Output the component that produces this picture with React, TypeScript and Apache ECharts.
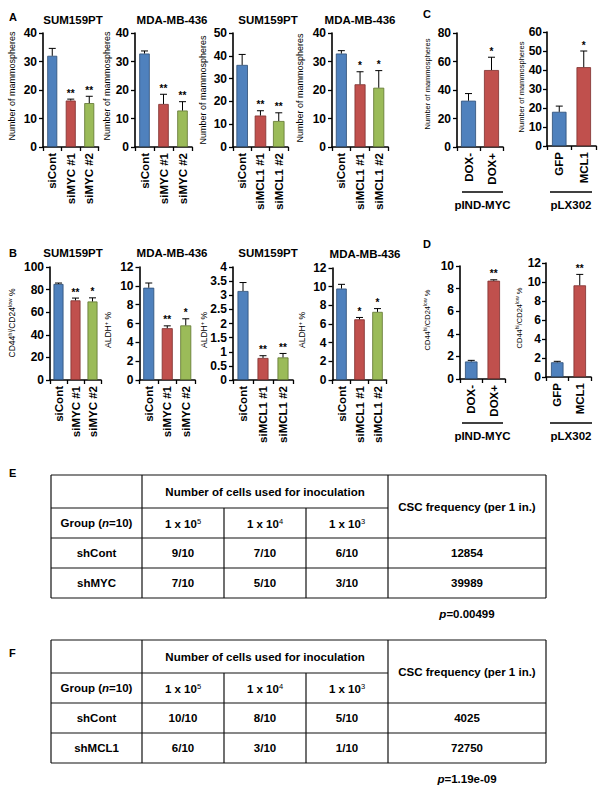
import React, { useEffect, useRef } from 'react';
import * as echarts from 'echarts';

const FONT = '"Liberation Sans", Arial, Helvetica, sans-serif';

// ---------- categories ----------
const catsMYC = ['siCont', 'siMYC #1', 'siMYC #2'];
const catsMCL1 = ['siCont', 'siMCL1 #1', 'siMCL1 #2'];
const catsDOX = ['DOX-', 'DOX+'];
const catsLX = ['GFP', 'MCL1'];

// ---------- panel A: number of mammospheres ----------
const a1Mean = [32, 16.3, 15.4];
const a1Err = [2.6, 0.5, 2.4];
const a1Sig = ['', '**', '**'];
const a2Mean = [32.8, 15.1, 12.8];
const a2Err = [0.9, 3.4, 3.1];
const a2Sig = ['', '**', '**'];
const a3Mean = [36, 13.8, 11.4];
const a3Err = [4.6, 2.1, 3.6];
const a3Sig = ['', '**', '**'];
const a4Mean = [32.8, 22, 20.8];
const a4Err = [1, 4.4, 6];
const a4Sig = ['', '*', '*'];

// ---------- panel C ----------
const c1Mean = [32.5, 54];
const c1Err = [5, 9];
const c1Sig = ['', '*'];
const c2Mean = [18, 41.5];
const c2Err = [3, 8.5];
const c2Sig = ['', '*'];

// ---------- panel B ----------
const b1Mean = [85, 70.5, 69.5];
const b1Err = [0.8, 2, 3.2];
const b1Sig = ['', '**', '*'];
const b2Mean = [9.8, 5.5, 5.8];
const b2Err = [0.5, 0.25, 0.7];
const b2Sig = ['', '**', '*'];
const b3Mean = [3.15, 0.78, 0.8];
const b3Err = [0.3, 0.08, 0.14];
const b3Sig = ['', '**', '**'];
const b4Mean = [9.8, 6.5, 7.3];
const b4Err = [0.45, 0.2, 0.35];
const b4Sig = ['', '*', '*'];

// ---------- panel D ----------
const d1Mean = [1.55, 8.7];
const d1Err = [0.1, 0.08];
const d1Sig = ['', '**'];
const d2Mean = [1.55, 9.65];
const d2Err = [0.1, 1.15];
const d2Sig = ['', '**'];

// ---------- tables ----------
const doseHeads = ['5', '4', '3'];
const tableERows = [
  ['shCont', '9/10', '7/10', '6/10', '12854'],
  ['shMYC', '7/10', '5/10', '3/10', '39989'],
];
const tableEP = '0.00499';
const tableFRows = [
  ['shCont', '10/10', '8/10', '5/10', '4025'],
  ['shMCL1', '6/10', '3/10', '1/10', '72750'],
];
const tableFP = '1.19e-09';

const BAR_COLORS = [
  { fill: '#4f81bd', border: '#2c4d75' },
  { fill: '#c0504d', border: '#7d2f2d' },
  { fill: '#9bbb59', border: '#5f7530' },
];

type Chart = {
  cats: string[];
  mean: number[];
  err: number[];
  sig: string[];
  left: number;
  top: number;
  zero: number;
  catW: number;
  barW: number;
  max: number;
  interval: number;
  title?: string;
  titleX?: number;
  titleY?: number;
  yName: string;
  yNameX: number;
  yNameY: number;
  yNameSize: number;
  labelMargin?: number;
};

const charts: Chart[] = [
  { cats: catsMYC, mean: a1Mean, err: a1Err, sig: a1Sig, left: 43, top: 33, zero: 147, catW: 18.5, barW: 10, max: 40, interval: 10, title: 'SUM159PT', titleX: 73, titleY: 20, yName: 'mam', yNameX: 12, yNameY: 86, yNameSize: 9 },
  { cats: catsMYC, mean: a2Mean, err: a2Err, sig: a2Sig, left: 135, top: 33, zero: 147, catW: 19, barW: 10.5, max: 40, interval: 10, title: 'MDA-MB-436', titleX: 172, titleY: 20, yName: 'mam', yNameX: 107, yNameY: 86, yNameSize: 9 },
  { cats: catsMCL1, mean: a3Mean, err: a3Err, sig: a3Sig, left: 233, top: 33, zero: 147, catW: 18.3, barW: 11.5, max: 50, interval: 10, title: 'SUM159PT', titleX: 268, titleY: 20, yName: 'mam', yNameX: 203, yNameY: 90, yNameSize: 9 },
  { cats: catsMCL1, mean: a4Mean, err: a4Err, sig: a4Sig, left: 332, top: 33, zero: 147, catW: 18.7, barW: 11, max: 40, interval: 10, title: 'MDA-MB-436', titleX: 360, titleY: 20, yName: 'mam', yNameX: 300, yNameY: 88, yNameSize: 9 },
  { cats: catsDOX, mean: c1Mean, err: c1Err, sig: c1Sig, left: 457, top: 33, zero: 147, catW: 23, barW: 15, max: 80, interval: 20, yName: 'mam', yNameX: 427, yNameY: 84, yNameSize: 7.5 },
  { cats: catsLX, mean: c2Mean, err: c2Err, sig: c2Sig, left: 547, top: 32, zero: 146, catW: 24.5, barW: 14.5, max: 60, interval: 10, yName: 'mam', yNameX: 521, yNameY: 87, yNameSize: 7.5, labelMargin: 5 },
  { cats: catsMYC, mean: b1Mean, err: b1Err, sig: b1Sig, left: 50, top: 267, zero: 380, catW: 17, barW: 10, max: 100, interval: 20, title: 'SUM159PT', titleX: 73, titleY: 253, yName: 'cd', yNameX: 12, yNameY: 323, yNameSize: 8.5 },
  { cats: catsMYC, mean: b2Mean, err: b2Err, sig: b2Sig, left: 139.5, top: 267, zero: 380, catW: 18.5, barW: 11, max: 12, interval: 2, title: 'MDA-MB-436', titleX: 172, titleY: 253, yName: 'aldh', yNameX: 108, yNameY: 330, yNameSize: 8.5 },
  { cats: catsMCL1, mean: b3Mean, err: b3Err, sig: b3Sig, left: 233, top: 267, zero: 380, catW: 20, barW: 11, max: 4, interval: 0.5, title: 'SUM159PT', titleX: 268, titleY: 253, yName: 'aldh', yNameX: 204, yNameY: 330, yNameSize: 8.5 },
  { cats: catsMCL1, mean: b4Mean, err: b4Err, sig: b4Sig, left: 332.5, top: 268, zero: 380, catW: 18, barW: 10.5, max: 12, interval: 2, title: 'MDA-MB-436', titleX: 365, titleY: 254, yName: 'aldh', yNameX: 302, yNameY: 330, yNameSize: 8.5 },
  { cats: catsDOX, mean: d1Mean, err: d1Err, sig: d1Sig, left: 460, top: 266, zero: 379, catW: 22.5, barW: 12.5, max: 10, interval: 2, yName: 'cd', yNameX: 427, yNameY: 320, yNameSize: 7.5 },
  { cats: catsLX, mean: d2Mean, err: d2Err, sig: d2Sig, left: 546, top: 263, zero: 377, catW: 22.5, barW: 12.5, max: 12, interval: 2, yName: 'cd', yNameX: 519, yNameY: 318, yNameSize: 7.5, labelMargin: 5 },
];

function yNameText(kind: string, size: number) {
  const s = Math.round(size * 0.68 * 10) / 10;
  const rich = {
    n: { fontFamily: FONT, fontSize: size, color: '#000', fontWeight: 'normal' },
    s: { fontFamily: FONT, fontSize: s, color: '#000', verticalAlign: 'top', padding: [0, 0, size * 0.45, 0] },
  };
  if (kind === 'mam') return { text: 'Number of mammospheres', rich: undefined };
  if (kind === 'aldh') return { text: '{n|ALDH}{s|+}{n| %}', rich };
  return { text: '{n|CD44}{s|hi}{n|/CD24}{s|low}{n| %}', rich };
}

function buildTable(top: number, rows: string[][], pVal: string, label: string, labelY: number) {
  const xs = [51, 142, 224, 306, 388, 546];
  const mid = top + 33;
  const rowH = 30;
  const hdrBot = mid + rowH;
  const bottom = hdrBot + rowH * rows.length;
  const stroke = { stroke: '#111', lineWidth: 1.2 };
  const els: any[] = [];
  const hline = (x1: number, x2: number, y: number) =>
    els.push({ type: 'line', silent: true, shape: { x1, y1: y, x2, y2: y }, style: stroke });
  const vline = (x: number, y1: number, y2: number) =>
    els.push({ type: 'line', silent: true, shape: { x1: x, y1, x2: x, y2 }, style: stroke });
  hline(xs[0], xs[5], top);
  hline(xs[0], xs[4], mid);
  hline(xs[0], xs[5], hdrBot);
  rows.forEach((_, i) => hline(xs[0], xs[5], hdrBot + rowH * (i + 1)));
  vline(xs[0], top, bottom);
  vline(xs[1], top, bottom);
  vline(xs[2], mid, bottom);
  vline(xs[3], mid, bottom);
  vline(xs[4], top, bottom);
  vline(xs[5], top, bottom);
  const font = { fontFamily: FONT, fontSize: 11.5, fontWeight: 'bold', color: '#000' };
  const txt = (x: number, y: number, text: string, rich?: any) =>
    els.push({
      type: 'text', silent: true, x, y,
      style: { text, fill: '#000', font: `bold 11.5px ${FONT}`, align: 'center', verticalAlign: 'middle', rich },
    });
  txt((xs[1] + xs[4]) / 2, (top + mid) / 2, 'Number of cells used for inoculation');
  txt((xs[4] + xs[5]) / 2, (top + hdrBot) / 2, 'CSC frequency (per 1 in.)');
  txt((xs[0] + xs[1]) / 2, (mid + hdrBot) / 2, '{b|Group (}{i|n}{b|=10)}', {
    b: { ...font }, i: { ...font, fontStyle: 'italic' },
  });
  doseHeads.forEach((e, k) => {
    txt((xs[1 + k] + xs[2 + k]) / 2, (mid + hdrBot) / 2 + 1, `{b|1 x 10}{s|${e}}`, {
      b: { ...font }, s: { ...font, fontSize: 7.5, fontWeight: 'normal', verticalAlign: 'top', padding: [0, 0, 6, 0] },
    });
  });
  rows.forEach((r, i) => {
    const cy = hdrBot + rowH * i + rowH / 2;
    txt((xs[0] + xs[1]) / 2, cy, r[0]);
    txt((xs[1] + xs[2]) / 2, cy, r[1]);
    txt((xs[2] + xs[3]) / 2, cy, r[2]);
    txt((xs[3] + xs[4]) / 2, cy, r[3]);
    txt((xs[4] + xs[5]) / 2, cy, r[4]);
  });
  txt(467, bottom + 16, `{i|p}{b|=${pVal}}`, { b: { ...font }, i: { ...font, fontStyle: 'italic' } });
  els.push({
    type: 'text', silent: true, x: 9, y: labelY,
    style: { text: label, fill: '#000', font: `bold 11px ${FONT}`, align: 'left', verticalAlign: 'middle' },
  });
  return els;
}

export default function App() {
  const ref = useRef<HTMLDivElement>(null);
  useEffect(() => {
    if (!ref.current) return;
    const chart = echarts.init(ref.current, undefined, { renderer: 'svg' });

    const grid: any[] = [];
    const xAxis: any[] = [];
    const yAxis: any[] = [];
    const series: any[] = [];
    const graphic: any[] = [];

    charts.forEach((c, i) => {
      grid.push({ left: c.left, top: c.top, width: c.catW * c.cats.length, height: c.zero - c.top, containLabel: false });
      xAxis.push({
        type: 'category', gridIndex: i, data: c.cats, boundaryGap: true,
        axisLine: { show: true, lineStyle: { color: '#000', width: 1.6 } },
        axisTick: { show: true, length: 4, interval: 0, lineStyle: { color: '#000', width: 1.3 } },
        axisLabel: { interval: 0, rotate: 90, margin: 6, color: '#000', fontFamily: FONT, fontSize: 11.5, fontWeight: 'bold' },
        splitLine: { show: false },
      });
      yAxis.push({
        type: 'value', gridIndex: i, min: 0, max: c.max, interval: c.interval,
        axisLine: { show: true, lineStyle: { color: '#000', width: 1.6 } },
        axisTick: { show: true, length: 4, lineStyle: { color: '#000', width: 1.3 } },
        axisLabel: { margin: c.labelMargin ?? 6, color: '#000', fontFamily: FONT, fontSize: 12, fontWeight: 'bold' },
        splitLine: { show: false },
      });
      series.push({
        type: 'bar', xAxisIndex: i, yAxisIndex: i, barWidth: c.barW, silent: true,
        data: c.mean.map((v, k) => ({
          value: v,
          itemStyle: { color: BAR_COLORS[k].fill, borderColor: BAR_COLORS[k].border, borderWidth: 0.8 },
        })),
        z: 2,
      });
      const sig = c.sig;
      series.push({
        type: 'custom', xAxisIndex: i, yAxisIndex: i, silent: true, z: 3,
        data: c.mean.map((v, k) => [k, v, c.err[k]]),
        renderItem: (params: any, api: any) => {
          const x = api.value(0);
          const m = api.value(1);
          const e = api.value(2);
          const p0 = api.coord([x, m]);
          const p1 = api.coord([x, m + e]);
          const cap = 3.5;
          const s = sig[params.dataIndex];
          return {
            type: 'group',
            children: [
              { type: 'line', shape: { x1: p0[0], y1: p0[1], x2: p1[0], y2: p1[1] }, style: { stroke: '#000', lineWidth: 1 } },
              { type: 'line', shape: { x1: p1[0] - cap, y1: p1[1], x2: p1[0] + cap, y2: p1[1] }, style: { stroke: '#000', lineWidth: 1 } },
              { type: 'text', x: p1[0], y: p1[1] - 1, style: { text: s, fill: '#000', font: `bold 10px ${FONT}`, align: 'center', verticalAlign: 'bottom' } },
            ],
          };
        },
      });
      if (c.title) {
        graphic.push({
          type: 'text', silent: true, x: c.titleX, y: c.titleY,
          style: { text: c.title, fill: '#000', font: `bold 11.5px ${FONT}`, align: 'center', verticalAlign: 'middle' },
        });
      }
      const yn = yNameText(c.yName, c.yNameSize);
      graphic.push({
        type: 'text', silent: true, x: c.yNameX, y: c.yNameY, rotation: Math.PI / 2,
        style: {
          text: yn.text, rich: yn.rich, fill: '#000', font: `${c.yNameSize}px ${FONT}`,
          align: 'center', verticalAlign: 'middle',
        },
      });
    });

    // panel letters
    const letters: [string, number, number][] = [['A', 9, 17], ['B', 9, 253], ['C', 423, 14], ['D', 423, 244]];
    letters.forEach(([t, x, y]) =>
      graphic.push({ type: 'text', silent: true, x, y, style: { text: t, fill: '#000', font: `bold 11px ${FONT}`, align: 'left', verticalAlign: 'middle' } })
    );

    // group labels under C / D
    const groups: [string, number, number, number, number][] = [
      ['pIND-MYC', 462, 503, 192, 205],
      ['pLX302', 550, 592, 192, 205],
      ['pIND-MYC', 462, 503, 423, 436],
      ['pLX302', 550, 592, 423, 436],
    ];
    groups.forEach(([t, x1, x2, ly, ty]) => {
      graphic.push({ type: 'line', silent: true, shape: { x1, y1: ly, x2, y2: ly }, style: { stroke: '#000', lineWidth: 1.6 } });
      graphic.push({ type: 'text', silent: true, x: (x1 + x2) / 2, y: ty, style: { text: t, fill: '#000', font: `bold 11.5px ${FONT}`, align: 'center', verticalAlign: 'middle' } });
    });

    graphic.push(...buildTable(475, tableERows, tableEP, 'E', 473));
    graphic.push(...buildTable(640, tableFRows, tableFP, 'F', 653));

    chart.setOption({
      animation: false,
      backgroundColor: '#fff',
      grid, xAxis, yAxis, series, graphic,
    });
    return () => chart.dispose();
  }, []);
  return <div ref={ref} style={{ position: 'absolute', left: 0, top: 0, width: 604, height: 786, background: '#fff' }} />;
}
